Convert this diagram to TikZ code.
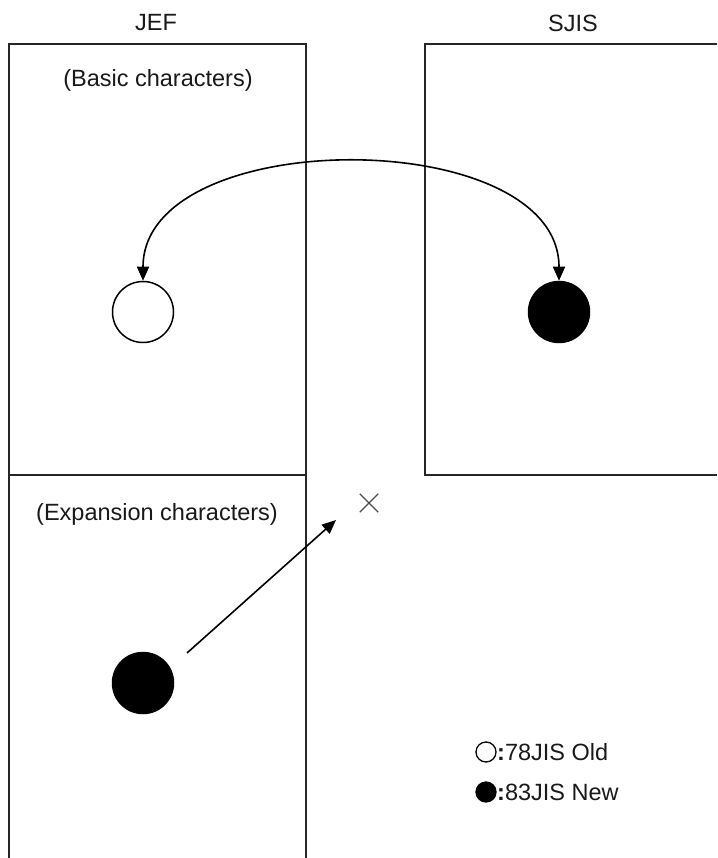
\documentclass[tikz,border=0pt]{standalone}
\usepackage{fontspec}
\setmainfont{Liberation Sans}
\usetikzlibrary{arrows.meta}
\begin{document}
\begin{tikzpicture}[x=1pt,y=-1pt,
  boxline/.style={draw=black!85,line width=1.5pt},
  lbl/.style={font=\fontsize{23.5}{27}\selectfont,inner sep=0pt,text=black!90},
  tip/.style={Triangle[length=14pt,width=12pt]},
  conn/.style={draw=black,line width=1.6pt,-{Triangle[length=14pt,width=12pt]}},
  bigdot/.style={circle,minimum size=61pt,inner sep=0pt,line width=1.5pt,draw=black},
  legdot/.style={circle,minimum size=20pt,inner sep=0pt,line width=1.3pt,draw=black}]
\useasboundingbox (0,0) rectangle (717,858);
% boxes
\draw[boxline] (9,44) rectangle (306,475);
\draw[boxline] (9,858) -- (9,475) -- (306,475) -- (306,858);
\draw[boxline] (717,44) -- (425,44) -- (425,475) -- (717,475);
% titles
\node[lbl] (jef) at (156,23) {JEF};
\node[lbl] (sjis) at (573,23) {SJIS};
\node[lbl] (basic) at (158,80) {(Basic characters)};
\node[lbl] (exp) at (157,514) {(Expansion characters)};
% circles
\node[bigdot,fill=white] (old) at (143,312) {};
\node[bigdot,fill=black] (new) at (559,312) {};
\node[bigdot,fill=black] (newb) at (143,683) {};
% curved double arrow
\draw[conn,{Triangle[length=14pt,width=12pt]}-{Triangle[length=14pt,width=12pt]}]
  (old.north) .. controls (143,124) and (559,124) .. (new.north);
% cross mark
\node[inner sep=0pt,minimum size=18pt] (cross) at (369,503) {};
\draw[black!70,line width=1.2pt] (cross.north west) -- (cross.south east)
  (cross.north east) -- (cross.south west);
% straight arrow
\coordinate (st) at (187,653);
\coordinate (en) at (336,520);
\draw[conn] (st) -- (en);
% legend
\node[legdot,fill=white] (l1) at (486,752) {};
\node[lbl,anchor=west] (t1) at (497,752) {\textbf{:}78JIS Old};
\node[legdot,fill=black] (l2) at (486,792) {};
\node[lbl,anchor=west] (t2) at (497,792) {\textbf{:}83JIS New};
\end{tikzpicture}
\end{document}
